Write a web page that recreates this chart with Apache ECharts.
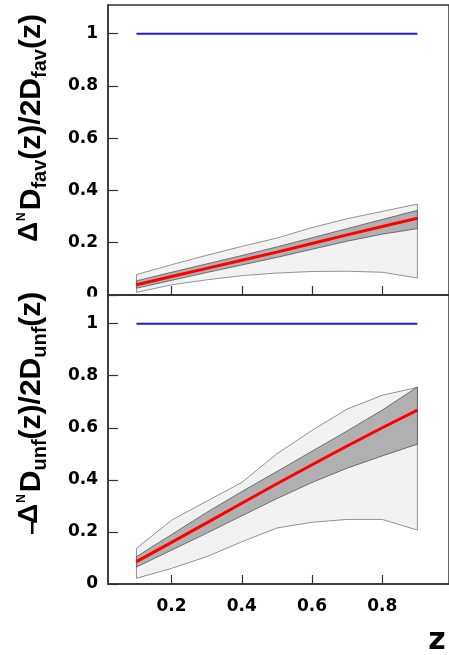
<!DOCTYPE html>
<html>
<head>
<meta charset="utf-8">
<script src="https://cdn.jsdelivr.net/npm/echarts@6/dist/echarts.min.js"></script>
<style>
html, body { margin: 0; padding: 0; background: #fff; }
#chart { width: 449px; height: 655px; }
</style>
</head>
<body>
<div id="chart"></div>
<script>
// z grid shared by every curve
const zValues = [0.1, 0.2, 0.3, 0.4, 0.5, 0.6, 0.7, 0.8, 0.9];

// favoured ratio: central curve, inner (dark) and outer (light) bands
const favCentral   = [0.039, 0.071, 0.102, 0.133, 0.164, 0.197, 0.230, 0.262, 0.294];
const favInnerHigh = [0.054, 0.087, 0.119, 0.151, 0.184, 0.219, 0.254, 0.289, 0.324];
const favInnerLow  = [0.026, 0.056, 0.086, 0.115, 0.144, 0.175, 0.206, 0.233, 0.254];
const favOuterHigh = [0.078, 0.116, 0.152, 0.186, 0.218, 0.258, 0.292, 0.320, 0.348];
const favOuterLow  = [0.010, 0.039, 0.058, 0.074, 0.084, 0.090, 0.091, 0.087, 0.065];

// unfavoured ratio
const unfCentral   = [0.086, 0.160, 0.235, 0.310, 0.385, 0.458, 0.530, 0.600, 0.668];
const unfInnerHigh = [0.105, 0.190, 0.275, 0.355, 0.432, 0.510, 0.588, 0.668, 0.757];
const unfInnerLow  = [0.065, 0.130, 0.195, 0.262, 0.328, 0.390, 0.445, 0.492, 0.537];
const unfOuterHigh = [0.137, 0.245, 0.318, 0.390, 0.500, 0.590, 0.672, 0.725, 0.755];
const unfOuterLow  = [0.022, 0.060, 0.105, 0.162, 0.215, 0.237, 0.248, 0.248, 0.207];

// positivity bound
const boundLine = [1, 1, 1, 1, 1, 1, 1, 1, 1];

const xTicks = [0.2, 0.4, 0.6, 0.8];
const yTicks = [0, 0.2, 0.4, 0.6, 0.8, 1];

const FONT = '"Liberation Sans", Arial, Helvetica, sans-serif';
const TICK_FONT = '"DejaVu Sans", Verdana, sans-serif';
const AXIS_COLOR = '#333';

const chart = echarts.init(document.getElementById('chart'), null, { renderer: 'canvas' });

function pairs(ys) { return zValues.map((z, i) => [z, ys[i]]); }

function band(idx, low, high, fill, stroke, z) {
  return {
    type: 'custom',
    xAxisIndex: idx, yAxisIndex: idx,
    silent: true, z: z,
    data: [[0.5, 0.5]],
    renderItem: function (params, api) {
      const pts = [];
      zValues.forEach((x, i) => pts.push(api.coord([x, high[i]])));
      for (let i = zValues.length - 1; i >= 0; i--) pts.push(api.coord([zValues[i], low[i]]));
      return { type: 'polygon', shape: { points: pts }, style: { fill: fill, stroke: stroke, lineWidth: 0.8 } };
    }
  };
}

function line(idx, ys, color, width, z) {
  return {
    type: 'line', xAxisIndex: idx, yAxisIndex: idx, data: pairs(ys),
    showSymbol: false, silent: true, z: z,
    lineStyle: { color: color, width: width }
  };
}

function xAxis(idx, showLabels) {
  return {
    type: 'value', gridIndex: idx, min: 0.019, max: 0.99,
    axisLine: { show: true, onZero: false, lineStyle: { color: AXIS_COLOR, width: 1.5 } },
    axisTick: { show: true, inside: true, length: 9, customValues: xTicks, lineStyle: { color: AXIS_COLOR, width: 1.2 } },
    axisLabel: {
      show: showLabels, customValues: xTicks, margin: 14,
      fontFamily: TICK_FONT, fontWeight: 'bold', fontSize: 17, color: '#000',
      formatter: v => v.toFixed(1)
    },
    splitLine: { show: false }
  };
}

function yAxis(idx) {
  return {
    type: 'value', gridIndex: idx, min: 0, max: 1.11,
    axisLine: { show: true, lineStyle: { color: AXIS_COLOR, width: 1.5 } },
    axisTick: { show: true, inside: true, length: 10, customValues: yTicks, lineStyle: { color: AXIS_COLOR, width: 1.2 } },
    axisLabel: {
      customValues: yTicks, margin: 10,
      fontFamily: TICK_FONT, fontWeight: 'bold', fontSize: 17, color: '#000',
      formatter: v => (v === 0 ? '0' : v === 1 ? '1' : v.toFixed(1))
    },
    splitLine: { show: false }
  };
}

// rotated axis titles built from pieces (main text, sub- and superscripts)
const measureCtx = document.createElement('canvas').getContext('2d');
function rotatedTitle(parts, baseX, startY) {
  let pos = 0;
  const children = [];
  parts.forEach(p => {
    const font = 'bold ' + p.s + 'px ' + FONT;
    measureCtx.font = font;
    const w = measureCtx.measureText(p.t).width;
    pos += (p.gap || 0);
    children.push({
      type: 'text', x: pos, y: p.b - 0.3465 * p.s, z: 100,
      style: { text: p.t, font: font, fill: '#000', align: 'left', verticalAlign: 'middle' }
    });
    pos += w;
  });
  return { type: 'group', x: baseX, y: startY, rotation: Math.PI / 2, z: 100, children: children };
}

const favTitle = [
  { t: 'Δ', s: 28, b: -4 },
  { t: 'N', s: 12, b: -17, gap: 1 },
  { t: 'D', s: 30, b: 0, gap: 2 },
  { t: 'fav', s: 20, b: 5 },
  { t: '(z)/2D', s: 30, b: 0 },
  { t: 'fav', s: 20, b: 5 },
  { t: '(z)', s: 30, b: 0 }
];
const unfTitle = [
  { t: '−', s: 24, b: -1 },
  { t: 'Δ', s: 28, b: -4, gap: -3 },
  { t: 'N', s: 12, b: -17, gap: 1 },
  { t: 'D', s: 30, b: 0, gap: 2 },
  { t: 'unf', s: 20, b: 5 },
  { t: '(z)/2D', s: 30, b: 0 },
  { t: 'unf', s: 20, b: 5 },
  { t: '(z)', s: 30, b: 0 }
];

const option = {
  backgroundColor: '#fff',
  animation: false,
  grid: [
    { left: 108, top: 5, height: 290, right: -9, show: true, borderColor: AXIS_COLOR, borderWidth: 1.5, backgroundColor: 'transparent' },
    { left: 108, top: 295, height: 289, right: -9, show: true, borderColor: AXIS_COLOR, borderWidth: 1.5, backgroundColor: 'transparent' }
  ],
  xAxis: [xAxis(0, false), xAxis(1, true)],
  yAxis: [yAxis(0), yAxis(1)],
  series: [
    band(0, favOuterLow, favOuterHigh, '#f2f2f2', '#777', 2),
    band(0, favInnerLow, favInnerHigh, '#b0b0b0', '#555', 3),
    line(0, favCentral, '#ff0000', 3, 4),
    line(0, boundLine, '#1a1aff', 2, 4),
    band(1, unfOuterLow, unfOuterHigh, '#f2f2f2', '#777', 2),
    band(1, unfInnerLow, unfInnerHigh, '#b0b0b0', '#555', 3),
    line(1, unfCentral, '#ff0000', 3, 4),
    line(1, boundLine, '#1a1aff', 2, 4)
  ],
  graphic: [
    // lower panel covers the lower half of the top panel's zero label
    { type: 'rect', shape: { x: 0, y: 296.5, width: 106, height: 12 }, style: { fill: '#fff' }, z: 50, silent: true },
    rotatedTitle(favTitle, 42.5, 242),
    rotatedTitle(unfTitle, 42.5, 535),
    { type: 'text', x: 437, y: 641, z: 100,
      style: { text: 'z', font: 'bold 30px ' + TICK_FONT, fill: '#000', align: 'center', verticalAlign: 'middle' } }
  ]
};

chart.setOption(option);
</script>
</body>
</html>
